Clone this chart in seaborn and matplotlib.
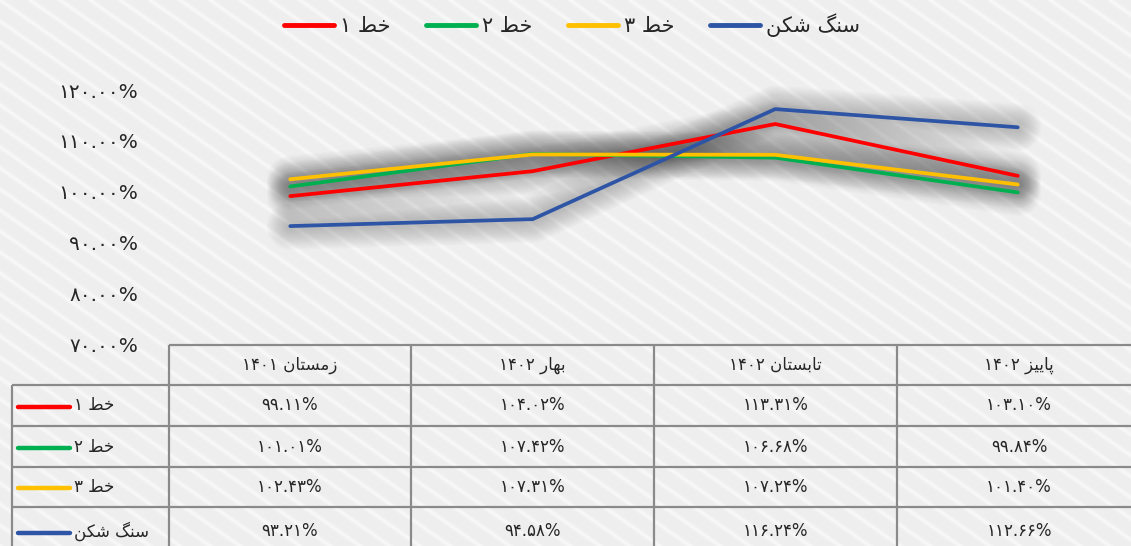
import numpy as np
import pandas as pd
import matplotlib
matplotlib.use("Agg")
import matplotlib.pyplot as plt
from matplotlib.lines import Line2D
import seaborn as sns

# data
periods = ["زمستان 1401", "بهار 1402", "تابستان 1402", "پاییز 1402"]
series = ["خط 1", "خط 2", "خط 3", "سنگ شکن"]
line1 = [99.11, 104.02, 113.31, 103.10]
line2 = [101.01, 107.42, 106.68, 99.84]
line3 = [102.43, 107.31, 107.24, 101.40]
crusher = [93.21, 94.58, 116.24, 112.66]
yticks = [70, 80, 90, 100, 110, 120]
colors = ["#ff0000", "#00b050", "#ffc000", "#2e55a5"]

# minimal Persian shaping (matplotlib has no bidi / joining support)
FORMS = {
    "ا": ("\ufe8d", "\ufe8e", None, None),
    "ب": ("\ufe8f", "\ufe90", "\ufe91", "\ufe92"),
    "پ": ("\ufb56", "\ufb57", "\ufb58", "\ufb59"),
    "ت": ("\ufe95", "\ufe96", "\ufe97", "\ufe98"),
    "خ": ("\ufea5", "\ufea6", "\ufea7", "\ufea8"),
    "ر": ("\ufead", "\ufeae", None, None),
    "ز": ("\ufeaf", "\ufeb0", None, None),
    "س": ("\ufeb1", "\ufeb2", "\ufeb3", "\ufeb4"),
    "ش": ("\ufeb5", "\ufeb6", "\ufeb7", "\ufeb8"),
    "ط": ("\ufec1", "\ufec2", "\ufec3", "\ufec4"),
    "م": ("\ufee1", "\ufee2", "\ufee3", "\ufee4"),
    "ن": ("\ufee5", "\ufee6", "\ufee7", "\ufee8"),
    "ه": ("\ufee9", "\ufeea", "\ufeeb", "\ufeec"),
    "ی": ("\ufbfc", "\ufbfd", "\ufbfe", "\ufbff"),
    "ک": ("\ufb8e", "\ufb8f", "\ufb90", "\ufb91"),
    "گ": ("\ufb92", "\ufb93", "\ufb94", "\ufb95"),
}
RIGHT_ONLY = set("ارزدذوژ")
FA_DIGITS = str.maketrans("0123456789", "۰۱۲۳۴۵۶۷۸۹")


def shape_word(w):
    out = []
    for i, c in enumerate(w):
        prev = w[i - 1] if i > 0 else None
        nxt = w[i + 1] if i < len(w) - 1 else None
        jp = prev in FORMS and prev not in RIGHT_ONLY
        jn = nxt in FORMS and c not in RIGHT_ONLY
        iso, fin, ini, med = FORMS[c]
        if jp and jn:
            out.append(med)
        elif jp:
            out.append(fin)
        elif jn:
            out.append(ini)
        else:
            out.append(iso)
    return "".join(reversed(out))


def fa(text):
    text = text.translate(FA_DIGITS)
    toks = []
    for t in text.split(" "):
        toks.append(shape_word(t) if any(ch in FORMS for ch in t) else t)
    return " ".join(reversed(toks))


def pct(v):
    return ("%.2f%%" % v).translate(FA_DIGITS)


values = [line1, line2, line3, crusher]
labels = [fa(s) for s in series]
cats = [fa(p) for p in periods]
df = pd.DataFrame({
    "period": [c for _ in series for c in cats],
    "series": [l for l in labels for _ in periods],
    "value": [v for vals in values for v in vals],
})

sns.set_style("white")
plt.rcParams["font.family"] = ["DejaVu Sans"]

W, H = 1131, 546
fig = plt.figure(figsize=(W / 100, H / 100), dpi=100)

# background with soft diagonal stripes + data table, in pixel coordinates
base = fig.add_axes([0, 0, 1, 1], zorder=0)
base.set_xlim(0, W)
base.set_ylim(H, 0)
base.axis("off")
base.add_patch(plt.Rectangle((0, 0), W, H, color="#eeeeee", zorder=0))
for c in range(-900, W + 40, 30):
    base.plot([c, c + 1000], [0, 700], color="white", lw=4, alpha=0.25, zorder=1)
    base.plot([c, c + 1000], [0, 700], color="white", lw=1.8, alpha=0.45, zorder=1)

# chart
ax = fig.add_axes([169 / W, 1 - 344 / H, 970 / W, 254 / H], zorder=2)
ax.set_facecolor("none")
# soft glow under the lines, built from wide translucent strokes
for w in range(34, 4, -2):
    sns.lineplot(data=df, x="period", y="value", hue="series",
                 palette=["#3a3a3a"] * 4, linewidth=w, alpha=0.02,
                 legend=False, ax=ax, sort=False,
                 solid_capstyle="round", solid_joinstyle="round")
for ln in ax.lines:
    ln.set_clip_on(False)
sns.lineplot(data=df, x="period", y="value", hue="series", palette=colors,
             linewidth=2.7, legend=False, ax=ax, sort=False)
ax.set_xlim(-0.5, 3.5)
ax.set_ylim(70, 120)
ax.set_yticks(yticks)
ax.set_yticklabels([pct(t) for t in yticks], fontsize=14.5)
ax.tick_params(axis="y", length=0, pad=22)
ax.set_xticks([])
ax.set_xlabel("")
ax.set_ylabel("")
sns.despine(ax=ax, left=True, bottom=True)

handles = [Line2D([], [], color=c, lw=3.5, solid_capstyle="round") for c in colors]
fig.legend(handles, labels, loc="center", bbox_to_anchor=(572 / W, 1 - 25 / H),
           ncol=4, frameon=False, fontsize=15, handlelength=2.4,
           handletextpad=0.3, columnspacing=1.7)

# data table
gc = "#8a8a8a"
col_x = [169, 411, 654, 897, W + 10]
row_y = [345, 385, 426, 467, 507, H + 10]
base.hlines(row_y[0], col_x[0], W, color=gc, lw=1.6, zorder=3)
base.hlines(row_y[1:-1], 12, W, color=gc, lw=1.6, zorder=3)
base.vlines(col_x[0:4], row_y[0], H, color=gc, lw=1.6, zorder=3)
base.vlines(12, row_y[1], H, color=gc, lw=1.6, zorder=3)
for j, p in enumerate(cats):
    xc = (col_x[j] + col_x[j + 1]) / 2
    base.text(xc, (row_y[0] + row_y[1]) / 2, p, ha="center", va="center",
              fontsize=12, zorder=4)
for i, (lab, vals, c) in enumerate(zip(labels, values, colors)):
    yc = (row_y[i + 1] + row_y[i + 2]) / 2
    base.plot([18, 70], [yc + 1, yc + 1], color=c, lw=3.2, solid_capstyle="round", zorder=4)
    base.text(74, yc, lab, ha="left", va="center", fontsize=12, zorder=4)
    for j, v in enumerate(vals):
        xc = (col_x[j] + col_x[j + 1]) / 2
        base.text(xc, yc, pct(v), ha="center", va="center", fontsize=12, zorder=4)

fig.savefig("out.png", dpi=100)
